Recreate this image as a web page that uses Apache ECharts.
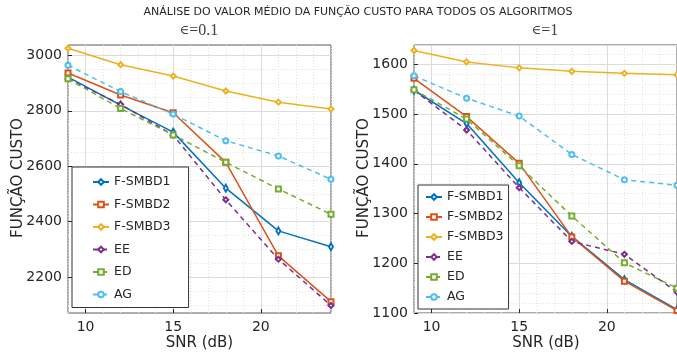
<!DOCTYPE html>
<html><head><meta charset="utf-8">
<script src="https://cdn.jsdelivr.net/npm/echarts@6/dist/echarts.min.js"></script>
<style>html,body{margin:0;padding:0;background:#fff}#c{width:677px;height:356px}</style>
</head><body><div id="c"></div>
<script>
const snr = [9, 12, 15, 18, 21, 24];
const names = ['F-SMBD1', 'F-SMBD2', 'F-SMBD3', 'EE', 'ED', 'AG'];
// epsilon = 0.1
const a_fsmbd1 = [2921, 2820, 2723, 2521, 2367, 2310];
const a_fsmbd2 = [2936, 2857, 2793, 2614, 2277, 2112];
const a_fsmbd3 = [3025, 2966, 2925, 2871, 2831, 2806];
const a_ee     = [2915, 2823, 2712, 2479, 2265, 2098];
const a_ed     = [2915, 2808, 2713, 2614, 2518, 2427];
const a_ag     = [2964, 2869, 2788, 2692, 2637, 2553];
// epsilon = 1
const b_fsmbd1 = [1548, 1481, 1362, 1254, 1167, 1107];
const b_fsmbd2 = [1572, 1495, 1401, 1253, 1164, 1105];
const b_fsmbd3 = [1628, 1605, 1593, 1586, 1582, 1579];
const b_ee     = [1548, 1468, 1352, 1244, 1218, 1142];
const b_ed     = [1549, 1490, 1396, 1295, 1201, 1150];
const b_ag     = [1577, 1532, 1496, 1419, 1368, 1357];
// tick labels
const xTicks = [10, 15, 20];
const yTicksA = [2200, 2400, 2600, 2800, 3000];
const yMinorA = [2100, 2150, 2200, 2250, 2300, 2350, 2400, 2450, 2500, 2550, 2600, 2650, 2700, 2750, 2800, 2850, 2900, 2950, 3000];

const colors = ['#0072BD', '#D95319', '#EDB120', '#7E2F8E', '#77AC30', '#4DBEEE'];
const symbols = ['emptyDiamond', 'emptyRect', 'emptyDiamond', 'emptyDiamond', 'emptyRect', 'emptyCircle'];
const dashed = [false, false, false, true, true, true];
const setA = [a_fsmbd1, a_fsmbd2, a_fsmbd3, a_ee, a_ed, a_ag];
const setB = [b_fsmbd1, b_fsmbd2, b_fsmbd3, b_ee, b_ed, b_ag];

const FONT = 'DejaVu Sans';
const TXT = '#262626';
const plain = v => String(v);
const majorLine = { show: true, lineStyle: { color: '#dcdcdc', width: 1, type: 'solid' } };
const minorLine = { show: true, lineStyle: { color: '#e2e2e2', width: 1, type: [1, 2] } };
const hidden = { axisLine: { show: false }, axisTick: { show: false }, axisLabel: { show: false } };

function visX(grid) {
  return { type: 'value', gridIndex: grid, min: 9, max: 24, z: 1,
    axisLine: { show: false },
    axisTick: { show: true, inside: true, length: 4, customValues: xTicks, lineStyle: { color: TXT } },
    axisLabel: { customValues: xTicks, fontSize: 14, fontFamily: FONT, color: TXT, margin: 7, formatter: plain },
    splitLine: majorLine };
}
function minX(grid) {
  return Object.assign({ type: 'value', gridIndex: grid, min: 9, max: 24, interval: 1, splitLine: minorLine }, hidden);
}

const series = [];
function addSeries(set, xi, yi) {
  set.forEach((vals, i) => {
    series.push({ name: names[i], type: 'line', xAxisIndex: xi, yAxisIndex: yi,
      data: snr.map((x, k) => [x, vals[k]]),
      symbol: symbols[i], symbolSize: i === 0 ? [4, 7] : 5, showSymbol: true,
      lineStyle: { color: colors[i], width: 1.5, type: dashed[i] ? [5, 4] : 'solid' },
      itemStyle: { color: colors[i], borderColor: colors[i], borderWidth: 1 },
      animation: false, clip: true });
  });
}
addSeries(setA, 0, 0);
addSeries(setB, 2, 2);

function legend(left, top, pad, gap) {
  return { orient: 'vertical', left: left, top: top, padding: pad, itemGap: gap,
    itemWidth: 16, itemHeight: 7, borderColor: '#333', borderWidth: 1, backgroundColor: '#fff',
    borderRadius: 0, selectedMode: false,
    textStyle: { fontSize: 12.5, fontFamily: FONT, color: TXT, lineHeight: 14 },
    data: names };
}

const subRich = { e: { fontSize: 13, fontFamily: 'DejaVu Serif', fill: '#404040' }, t: { fontSize: 16, fontFamily: 'Liberation Serif', fill: '#404040' } };

const chart = echarts.init(document.getElementById('c'), null, { renderer: 'canvas' });
chart.setOption({
  animation: false,
  backgroundColor: '#fff',
  grid: [
    { left: 68, top: 45, width: 263, height: 268, show: true, borderColor: '#5a5a5a', borderWidth: 1, backgroundColor: 'transparent' },
    { left: 414, top: 45, width: 265, height: 268, show: true, borderColor: '#5a5a5a', borderWidth: 1, backgroundColor: 'transparent' }
  ],
  xAxis: [visX(0), minX(0), visX(1), minX(1)],
  yAxis: [
    { type: 'value', gridIndex: 0, min: 2071, max: 3037, z: 1,
      axisLine: { show: false },
      axisTick: { show: true, inside: true, length: 4, customValues: yTicksA, lineStyle: { color: TXT } },
      axisLabel: { customValues: yTicksA, fontSize: 14, fontFamily: FONT, color: TXT, margin: 6, formatter: plain },
      splitLine: majorLine },
    Object.assign({ type: 'value', gridIndex: 0, min: 2071, max: 3037, splitLine: minorLine }, hidden,
      { axisTick: { show: false, customValues: yMinorA } }),
    { type: 'value', gridIndex: 1, min: 1100, max: 1639, interval: 100, z: 1,
      axisLine: { show: false },
      axisTick: { show: true, inside: true, length: 4, lineStyle: { color: TXT } },
      axisLabel: { fontSize: 14, fontFamily: FONT, color: TXT, margin: 6, showMaxLabel: false, formatter: plain },
      splitLine: majorLine },
    Object.assign({ type: 'value', gridIndex: 1, min: 1100, max: 1639, interval: 20, splitLine: minorLine }, hidden)
  ],
  legend: [
    legend(72, 167, [8, 18, 6, 20], 8.5),
    legend(418, 185, [5, 5, 5, 7], 6)
  ],
  graphic: [
    { type: 'text', x: 358, y: 12, style: { text: 'ANÁLISE DO VALOR MÉDIO DA FUNÇÃO CUSTO PARA TODOS OS ALGORITMOS', fontSize: 11, fontFamily: FONT, fill: TXT, align: 'center', verticalAlign: 'middle' } },
    { type: 'text', x: 199, y: 31, style: { text: '{e|∈}{t|=0.1}', rich: subRich, align: 'center', verticalAlign: 'middle' } },
    { type: 'text', x: 545, y: 31, style: { text: '{e|∈}{t|=1}', rich: subRich, align: 'center', verticalAlign: 'middle' } },
    { type: 'text', x: 18, y: 178, rotation: Math.PI / 2, style: { text: 'FUNÇÃO CUSTO', fontSize: 15, fontFamily: FONT, fill: TXT, align: 'center', verticalAlign: 'middle' } },
    { type: 'text', x: 364, y: 178, rotation: Math.PI / 2, style: { text: 'FUNÇÃO CUSTO', fontSize: 15, fontFamily: FONT, fill: TXT, align: 'center', verticalAlign: 'middle' } },
    { type: 'text', x: 199.5, y: 343, style: { text: 'SNR (dB)', fontSize: 15, fontFamily: FONT, fill: TXT, align: 'center', verticalAlign: 'middle' } },
    { type: 'text', x: 546, y: 343, style: { text: 'SNR (dB)', fontSize: 15, fontFamily: FONT, fill: TXT, align: 'center', verticalAlign: 'middle' } }
  ],
  series: series
});
</script></body></html>
